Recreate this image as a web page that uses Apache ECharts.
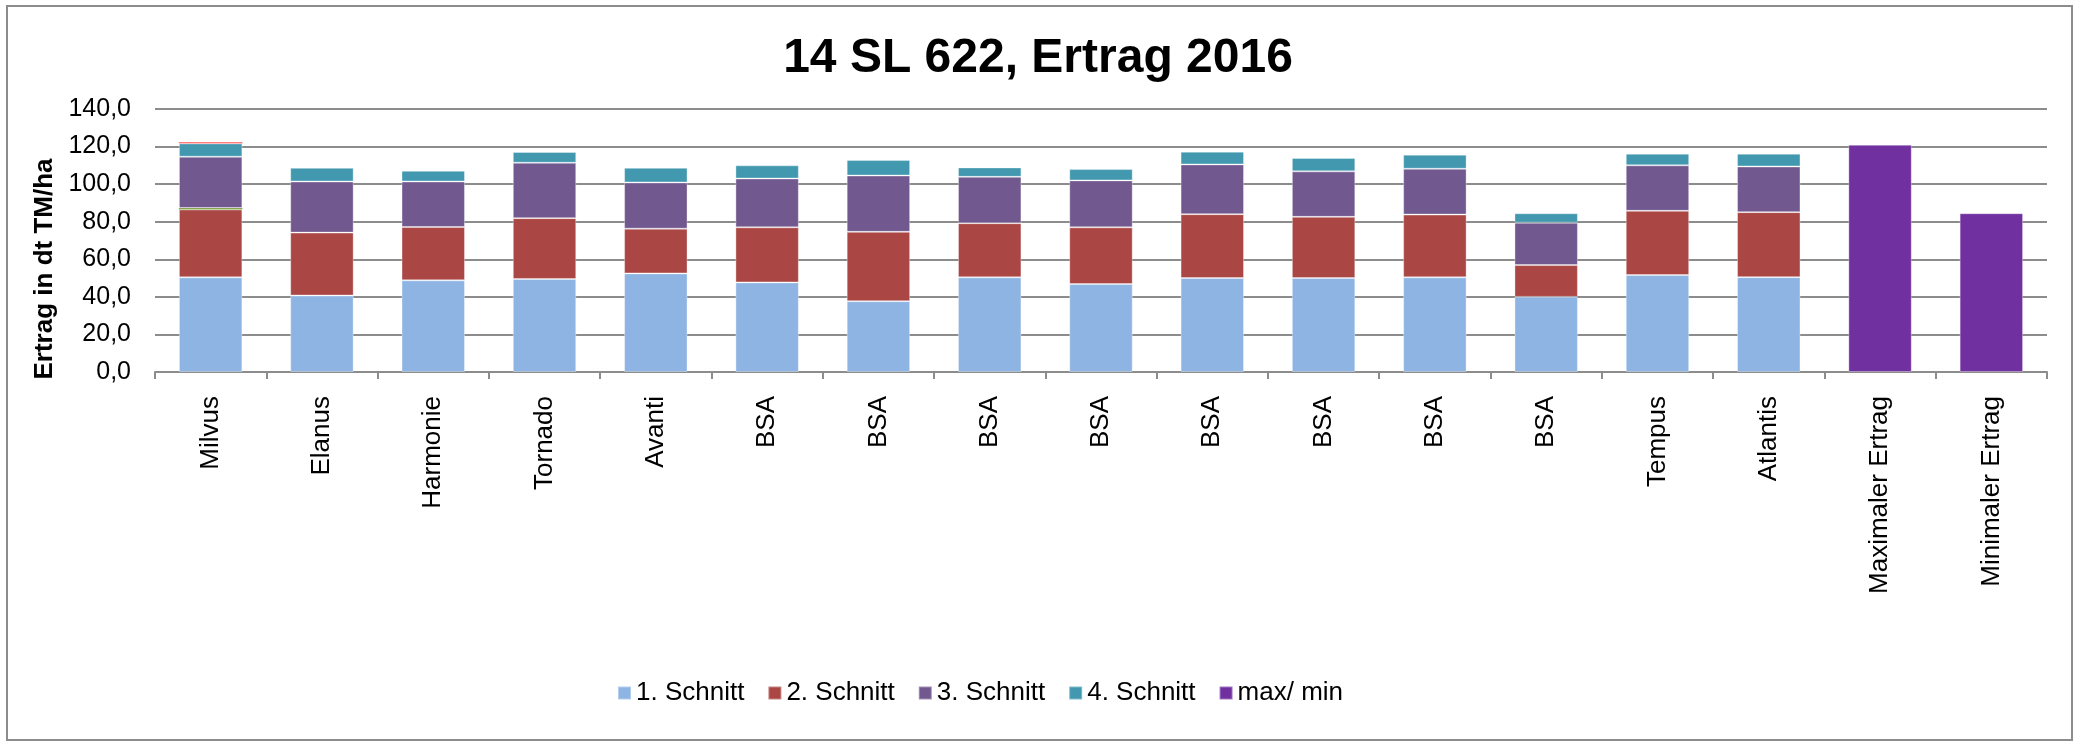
<!DOCTYPE html>
<html>
<head>
<meta charset="utf-8">
<script src="https://cdn.jsdelivr.net/npm/echarts@6/dist/echarts.min.js"></script>
<style>
html,body{margin:0;padding:0;background:#fff;}
#c{width:2076px;height:741px;}
</style>
</head>
<body>
<div id="c"></div>
<script>
const categories = ['Milvus','Elanus','Harmonie','Tornado','Avanti','BSA','BSA','BSA','BSA','BSA','BSA','BSA','BSA','Tempus','Atlantis','Maximaler Ertrag','Minimaler Ertrag'];
const schnitt1 = [50.4,40.7,48.8,49.5,52.5,47.7,37.7,50.4,46.8,50.0,50.0,50.4,40.0,51.6,50.5,'-','-'];
const schnitt2 = [36.1,33.5,28.4,32.4,23.8,29.3,36.9,28.8,30.2,34.0,32.6,33.4,16.9,34.2,34.6,'-','-'];
const extraGreen = [0.8,'-','-','-','-','-','-','-','-','-','-','-','-','-','-','-','-'];
const schnitt3 = [27.3,27.2,24.2,29.5,24.6,26.0,30.0,24.7,25.0,26.5,24.2,24.4,22.6,24.2,24.3,'-','-'];
const schnitt4 = [7.1,7.3,5.7,5.7,7.8,7.0,8.2,5.0,6.0,6.8,7.1,7.5,5.0,6.2,6.8,'-','-'];
const extraPink = [0.8,'-','-','-','-','-','-','-','-','-','-','-','-','-','-','-','-'];
const maxMin = ['-','-','-','-','-','-','-','-','-','-','-','-','-','-','-',121.0,84.5];
const yTicks = [0,20,40,60,80,100,120,140];

const FONT = "'Liberation Sans', Arial, sans-serif";
const chart = echarts.init(document.getElementById('c'), null, {renderer:'canvas'});

function bar(name, data, color, border) {
  return {
    name: name, type: 'bar', stack: 'total', data: data,
    barCategoryGap: '43%',
    itemStyle: border
      ? { color: color, borderColor: 'rgba(255,255,255,0.35)', borderWidth: 1 }
      : { color: color, borderWidth: 0 },
    emphasis: { disabled: true }
  };
}

chart.setOption({
  animation: false,
  backgroundColor: '#fff',
  title: {
    text: '14 SL 622, Ertrag 2016',
    left: 'center', top: 30,
    textStyle: { fontFamily: FONT, fontSize: 48, fontWeight: 'bold', color: '#000' }
  },
  legend: {
    data: ['1. Schnitt','2. Schnitt','3. Schnitt','4. Schnitt','max/ min'],
    left: 612, top: 675,
    itemWidth: 13, itemHeight: 13, itemGap: 23,
    icon: 'rect',
    textStyle: { fontFamily: FONT, fontSize: 26, color: '#000' }
  },
  grid: { left: 155, right: 29, top: 109, bottom: 369 },
  xAxis: {
    type: 'category', data: categories,
    axisLine: { lineStyle: { color: '#8c8c8c', width: 2 } },
    axisTick: { show: true, length: 7, lineStyle: { color: '#8c8c8c', width: 2 } },
    axisLabel: { interval: 0, rotate: 90, margin: 24, fontFamily: FONT, fontSize: 26, color: '#000' }
  },
  yAxis: {
    type: 'value', min: yTicks[0], max: yTicks[yTicks.length-1], interval: 20,
    axisLine: { show: false }, axisTick: { show: false },
    splitLine: { lineStyle: { color: '#8c8c8c', width: 2 } },
    axisLabel: {
      margin: 24, fontFamily: FONT, fontSize: 25, color: '#000',
      formatter: v => v.toFixed(1).replace('.', ',')
    }
  },
  graphic: [
    {
      type: 'rect', silent: true, z: -1,
      shape: { x: 7, y: 6, width: 2065, height: 734 },
      style: { fill: 'none', stroke: '#8c8c8c', lineWidth: 2 }
    },
    {
      type: 'text', silent: true,
      x: 45, y: 269, rotation: Math.PI/2,
      style: {
        text: 'Ertrag in dt TM/ha', fill: '#000',
        font: "bold 26px 'Liberation Sans', Arial, sans-serif",
        align: 'center', verticalAlign: 'middle'
      }
    }
  ],
  series: [
    bar('1. Schnitt', schnitt1, '#8EB4E3', true),
    bar('2. Schnitt', schnitt2, '#AA4643', true),
    bar('Datenreihe 6', extraGreen, '#89A54E', false),
    bar('3. Schnitt', schnitt3, '#71588F', true),
    bar('4. Schnitt', schnitt4, '#4198AF', true),
    bar('Datenreihe 7', extraPink, '#FF7F7F', false),
    bar('max/ min', maxMin, '#7030A0', true)
  ]
});
</script>
</body>
</html>
